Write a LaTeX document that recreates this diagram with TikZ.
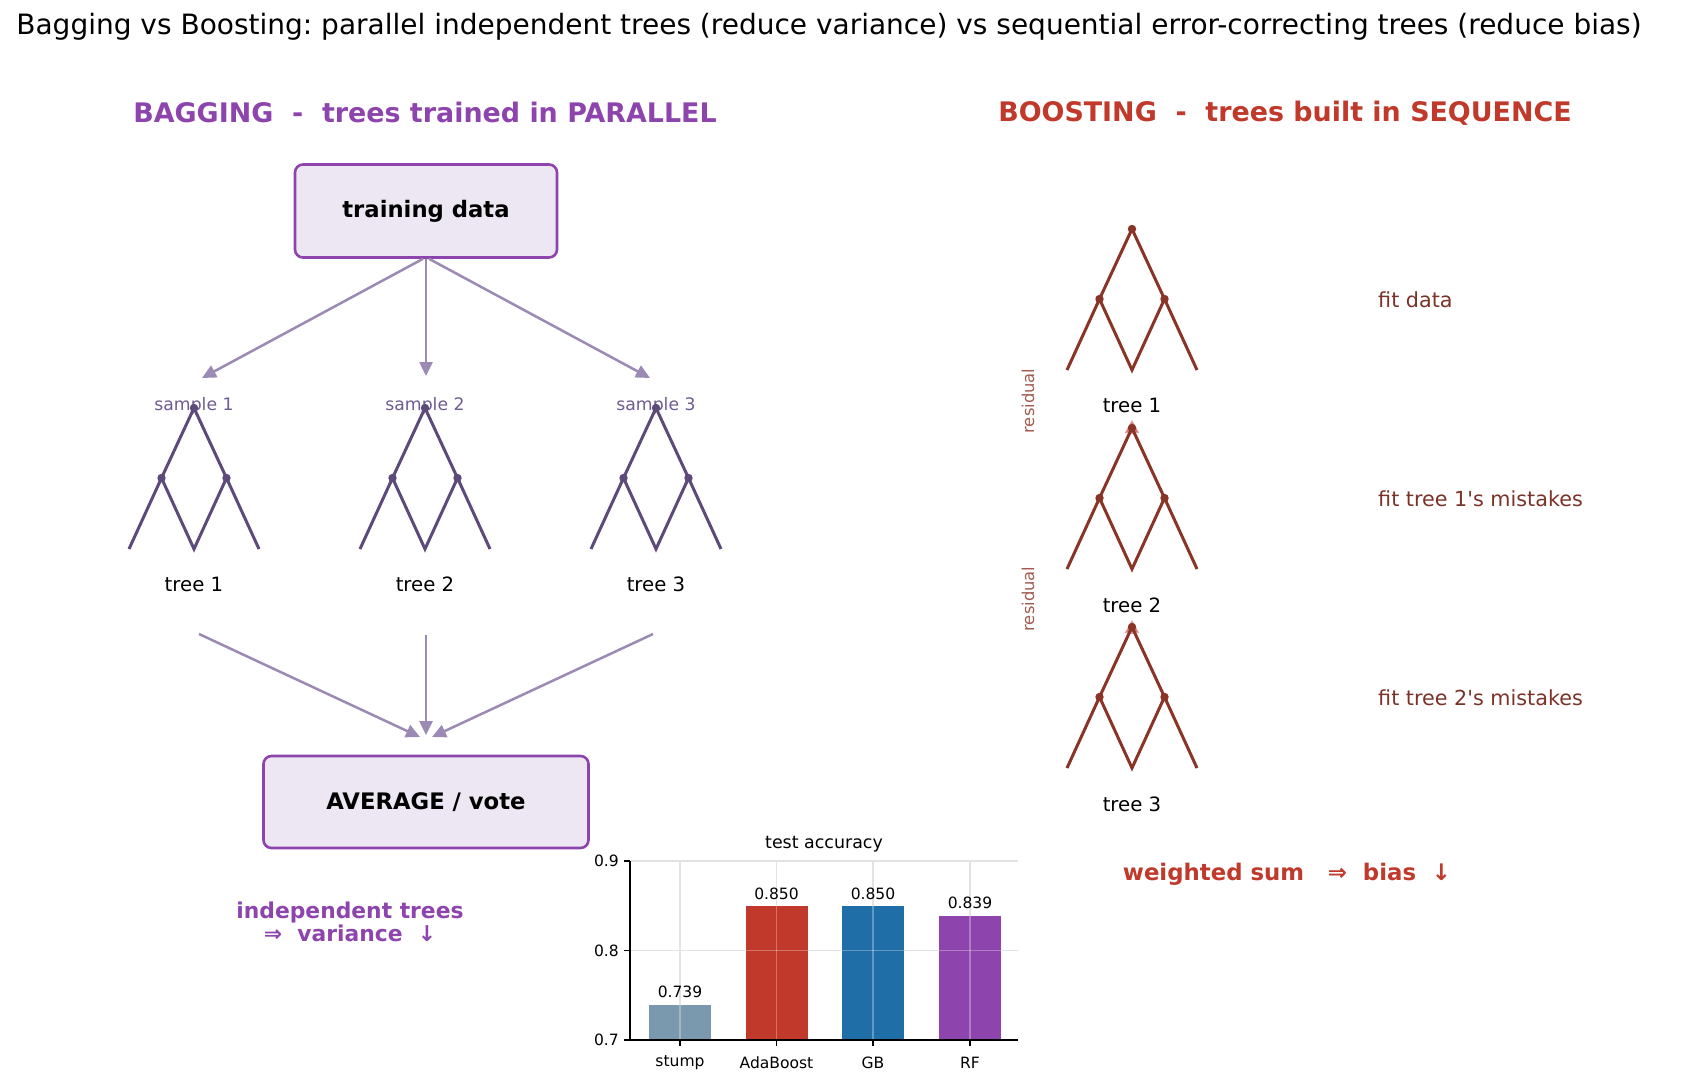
\documentclass[tikz,border=0pt]{standalone}
\usepackage{fontspec}
\setmainfont{DejaVu Sans}[Ligatures=TeXOff]
\usetikzlibrary{arrows.meta}
\frenchspacing

\definecolor{bagpurple}{HTML}{8E44AD}
\definecolor{bagfill}{HTML}{EDE6F3}
\definecolor{bagarrow}{HTML}{9A8AB4}
\definecolor{bagtree}{HTML}{5B4A7A}
\definecolor{samplecol}{HTML}{6E5C92}
\definecolor{boostred}{HTML}{C0392B}
\definecolor{boosttree}{HTML}{8A3427}
\definecolor{fitcol}{HTML}{7B3329}
\definecolor{rescol}{HTML}{A35B50}
\definecolor{stumpcol}{HTML}{7A99AE}
\definecolor{gbcol}{HTML}{1F6EA8}
\definecolor{gridcol}{HTML}{E3E3E3}

\newcommand{\fs}[1]{\fontsize{#1}{#1}\selectfont}

\tikzset{
  pics/bintree/.style={code={
    \coordinate (-r) at (0,0);
    \coordinate (-a) at (-32.5,70);
    \coordinate (-b) at (32.5,70);
    \coordinate (-l1) at (-65,141);
    \coordinate (-l2) at (0,141);
    \coordinate (-l3) at (65,141);
    \draw[#1, line width=3bp, line join=miter]
      (-l1) -- (-a) -- (-r) -- (-b) -- (-l3)
      (-a) -- (-l2) -- (-b);
    \fill[#1] (-r) circle[radius=4.2bp] (-a) circle[radius=4.2bp] (-b) circle[radius=4.2bp];
  }},
  box/.style={draw=bagpurple, fill=bagfill, line width=2.6bp, rounded corners=8bp,
    font=\fs{22.8}\bfseries, inner sep=0pt},
  bagarrowline/.style={draw=bagarrow, line width=2.5bp,
    -{Triangle[length=14bp,width=13bp]}},
  resarrowline/.style={draw=boostred, draw opacity=0.45, fill opacity=0.45, line width=2bp,
    -{Triangle[length=13bp,width=14bp, fill=boostred]}},
  lbl/.style={inner sep=0pt},
  treelbl/.style={lbl, font=\fs{19.8}},
  samplelbl/.style={lbl, font=\fs{17.3}, text=samplecol},
  fitlbl/.style={lbl, font=\fs{20.8}, text=fitcol, anchor=west},
  reslbl/.style={lbl, font=\fs{16.4}, text=rescol, rotate=90},
  ticklbl/.style={lbl, font=\fs{15.6}},
  spine/.style={line width=1.6bp, black},
  gridline/.style={draw=gridcol, line width=1.3bp},
}

\begin{document}
\begin{tikzpicture}[x=1bp, y=-1bp]
\useasboundingbox (0,0) rectangle (1684,1085);
\fill[white] (0,0) rectangle (1684,1085);

% title and section headers
\node[lbl, font=\fs{28.1}] (title) at (829,27)
  {Bagging vs Boosting: parallel independent trees (reduce variance) vs sequential error-correcting trees (reduce bias)};
\node[lbl, font=\fs{27}\bfseries, text=bagpurple] (baghead) at (425,112)
  {BAGGING\ \ -\ \ trees trained in PARALLEL};
\node[lbl, font=\fs{27}\bfseries, text=boostred] (boosthead) at (1285,113)
  {BOOSTING\ \ -\ \ trees built in SEQUENCE};

% ---------------- bagging ----------------
\node[box, minimum width=262bp, minimum height=93bp] (train) at (426,211) {training data};

\node[samplelbl] (s1) at (194,406) {sample 1};
\node[samplelbl] (s2) at (425,406) {sample 2};
\node[samplelbl] (s3) at (656,406) {sample 3};

\coordinate (s1in) at (202,378);
\coordinate (s2in) at (426,376);
\coordinate (s3in) at (650,378);
\draw[bagarrowline] ([xshift=-3bp]train.south) -- (s1in);
\draw[bagarrowline] (train.south) -- (s2in);
\draw[bagarrowline] ([xshift=3bp]train.south) -- (s3in);

\pic (bt1) at (194,408) {bintree=bagtree};
\pic (bt2) at (425,408) {bintree=bagtree};
\pic (bt3) at (656,408) {bintree=bagtree};

\node[treelbl] (bl1) at (194,584) {tree 1};
\node[treelbl] (bl2) at (425,584) {tree 2};
\node[treelbl] (bl3) at (656,584) {tree 3};

\node[box, minimum width=325bp, minimum height=92bp] (avg) at (426,802) {AVERAGE / vote};

\coordinate (b1out) at (199,634);
\coordinate (b2out) at (426,635);
\coordinate (b3out) at (653,634);
\coordinate (avgin1) at (420,737);
\coordinate (avgin2) at (426,735);
\coordinate (avgin3) at (432,737);
\draw[bagarrowline] (b1out) -- (avgin1);
\draw[bagarrowline] (b2out) -- (avgin2);
\draw[bagarrowline] (b3out) -- (avgin3);

\node[lbl, font=\fs{21.9}\bfseries, text=bagpurple, align=center] (indep) at (350,922)
  {independent trees\\[1bp]⇒\ \ variance\ \ ↓};

% ---------------- boosting ----------------
\coordinate (r1s) at (1132,433);
\coordinate (r1e) at (1132,420);
\coordinate (r2s) at (1132,633);
\coordinate (r2e) at (1132,620);
\draw[resarrowline] (r1s) -- (r1e);
\draw[resarrowline] (r2s) -- (r2e);

\pic (ct1) at (1132,229) {bintree=boosttree};
\pic (ct2) at (1132,428) {bintree=boosttree};
\pic (ct3) at (1132,627) {bintree=boosttree};

\node[treelbl] (cl1) at (1132,405) {tree 1};
\node[treelbl] (cl2) at (1132,605) {tree 2};
\node[treelbl] (cl3) at (1132,804) {tree 3};

\node[reslbl] (res1) at (1028,401) {residual};
\node[reslbl] (res2) at (1028,599) {residual};

\node[fitlbl] (fit1) at (1378,300) {fit data};
\node[fitlbl] (fit2) at (1378,499) {fit tree 1's mistakes};
\node[fitlbl] (fit3) at (1378,698) {fit tree 2's mistakes};

\node[lbl, font=\fs{22.9}\bfseries, text=boostred] (wsum) at (1287,874)
  {weighted sum\ \ \ ⇒\ \ bias\ \ ↓};

% ---------------- accuracy bar chart ----------------
% value v maps to y = 1040 - (v-0.7)/0.2*179
\draw[gridline] (630,861) -- (1018,861);
\draw[gridline] (630,950.5) -- (1018,950.5);
\foreach \cx in {680,776.5,873,970}
  \draw[gridline] (\cx,861) -- (\cx,1040);

\fill[stumpcol]  (649,1005) rectangle (711,1040);
\fill[boostred]  (745.5,906) rectangle (807.5,1040);
\fill[gbcol]     (842,906) rectangle (904,1040);
\fill[bagpurple] (939,916) rectangle (1001,1040);

\foreach \cx/\ytop in {680/1005,776.5/906,873/906,970/916}
  \draw[white, opacity=0.3, line width=1.3bp] (\cx,\ytop) -- (\cx,1040);
\draw[white, opacity=0.3, line width=1.3bp] (842,950.5) -- (904,950.5)
  (745.5,950.5) -- (807.5,950.5) (939,950.5) -- (1001,950.5);

\draw[spine] (630,861) -- (630,1040) -- (1018,1040);
\foreach \yv/\ty in {861/0.9,950.5/0.8,1040/0.7}{
  \draw[spine, line width=1.3bp] (630,\yv) -- (624,\yv);
  \node[ticklbl, anchor=east] at (619,\yv) {\ty};
}
\foreach \cx/\nm in {680/stump,776.5/AdaBoost,873/GB,970/RF}{
  \draw[spine, line width=1.3bp] (\cx,1040) -- (\cx,1046);
  \node[ticklbl] at (\cx,1063) {\nm};
}
\node[ticklbl] (v1) at (680,992) {0.739};
\node[ticklbl] (v2) at (776.5,894) {0.850};
\node[ticklbl] (v3) at (873,894) {0.850};
\node[ticklbl] (v4) at (970,903) {0.839};
\node[lbl, font=\fs{17.5}] (charttitle) at (824,844) {test accuracy};

\end{tikzpicture}
\end{document}
